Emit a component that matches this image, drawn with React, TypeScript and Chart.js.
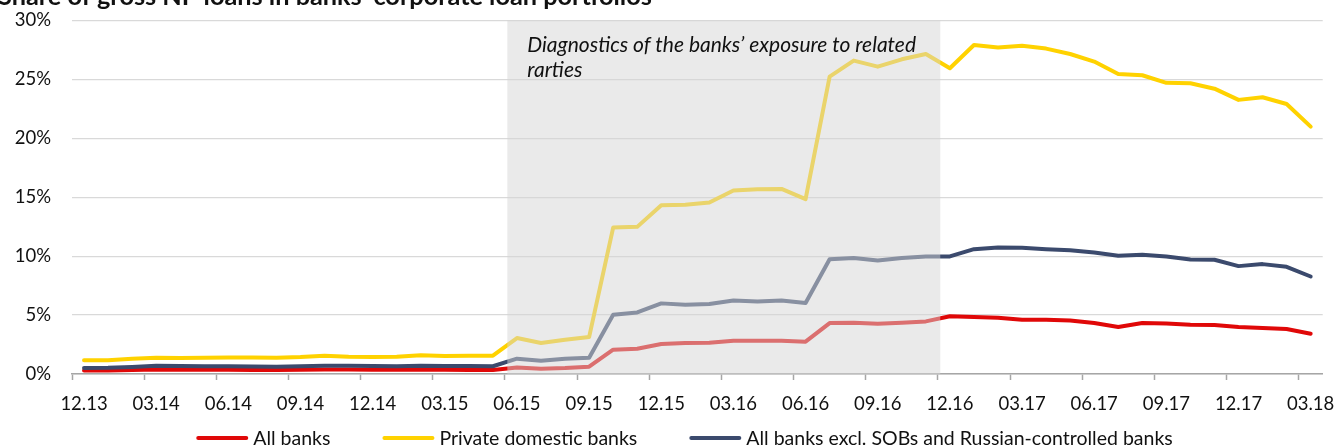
import React, { useEffect, useRef } from 'react';
import { Chart, registerables } from 'chart.js';

Chart.register(...registerables);

const monthLabels = [
  '12.13',
  '01.14', '02.14', '03.14', '04.14', '05.14', '06.14', '07.14', '08.14', '09.14', '10.14', '11.14', '12.14',
  '01.15', '02.15', '03.15', '04.15', '05.15', '06.15', '07.15', '08.15', '09.15', '10.15', '11.15', '12.15',
  '01.16', '02.16', '03.16', '04.16', '05.16', '06.16', '07.16', '08.16', '09.16', '10.16', '11.16', '12.16',
  '01.17', '02.17', '03.17', '04.17', '05.17', '06.17', '07.17', '08.17', '09.17', '10.17', '11.17', '12.17',
  '01.18', '02.18', '03.18',
];

const allBanks = [
  0.30, 0.30, 0.33, 0.38, 0.36, 0.36, 0.36, 0.34, 0.33, 0.36, 0.38, 0.38, 0.36, 0.35, 0.36, 0.35, 0.34, 0.34,
  0.56, 0.45, 0.51, 0.62, 2.06, 2.14, 2.54, 2.63, 2.65, 2.82, 2.82, 2.82, 2.74, 4.32, 4.35, 4.26, 4.35, 4.46,
  4.90, 4.83, 4.77, 4.60, 4.60, 4.54, 4.32, 3.98, 4.32, 4.29, 4.18, 4.15, 3.98, 3.90, 3.81, 3.42,
];

const privateDomestic = [
  1.16, 1.16, 1.30, 1.38, 1.36, 1.38, 1.40, 1.40, 1.38, 1.44, 1.55, 1.46, 1.44, 1.46, 1.60, 1.52, 1.55, 1.55,
  3.05, 2.63, 2.90, 3.13, 12.42, 12.48, 14.32, 14.35, 14.54, 15.56, 15.67, 15.70, 14.83, 25.22, 26.58, 26.07, 26.69, 27.14,
  25.93, 27.90, 27.70, 27.85, 27.60, 27.14, 26.50, 25.45, 25.34, 24.70, 24.66, 24.20, 23.25, 23.47, 22.90, 20.98,
];

const exclSobRussian = [
  0.50, 0.52, 0.60, 0.70, 0.68, 0.66, 0.66, 0.64, 0.62, 0.66, 0.70, 0.70, 0.68, 0.66, 0.70, 0.68, 0.68, 0.66,
  1.30, 1.13, 1.30, 1.38, 5.03, 5.22, 5.99, 5.87, 5.93, 6.24, 6.15, 6.24, 6.02, 9.74, 9.83, 9.63, 9.83, 9.97,
  9.97, 10.59, 10.73, 10.70, 10.59, 10.50, 10.31, 10.03, 10.11, 9.97, 9.71, 9.69, 9.15, 9.32, 9.09, 8.27,
];

const seriesNames = ['All banks', 'Private domestic banks', 'All banks excl. SOBs and Russian-controlled banks'];
const seriesColors = ['#E00808', '#FFD200', '#3B4A6D'];
const yMin = 0;
const yMax = 30;
const yStep = 5;
const titleText = 'Share of gross NP loans in banks’ corporate loan portfolios';
const shadeLines = ['Diagnostics of the banks’ exposure to related', 'rarties'];
const shadeFrom = 17.6;
const shadeTo = 35.6;

const FONT = 'Lato, "Open Sans", sans-serif';

const decorPlugin = {
  id: 'decor',
  afterDatasetsDraw(chart: any) {
    const { ctx, chartArea, scales } = chart;
    const x1 = scales.x.getPixelForValue(shadeFrom);
    const x2 = scales.x.getPixelForValue(shadeTo);
    ctx.save();
    ctx.fillStyle = 'rgba(214,214,214,0.5)';
    ctx.fillRect(x1, chartArea.top, x2 - x1, chartArea.bottom - chartArea.top);
    ctx.fillStyle = '#111';
    ctx.font = `italic 21px ${FONT}`;
    ctx.textBaseline = 'alphabetic';
    ctx.textAlign = 'left';
    ctx.fillText(shadeLines[0], x1 + 20, chartArea.top + 31.5);
    ctx.fillText(shadeLines[1], x1 + 20, chartArea.top + 56.5);
    ctx.restore();
  },
  afterDraw(chart: any) {
    const { ctx } = chart;
    ctx.save();
    // title (partially cut by the top edge, as in the reference)
    ctx.fillStyle = '#111';
    ctx.font = `bold 25.3px ${FONT}`;
    ctx.textBaseline = 'alphabetic';
    ctx.textAlign = 'left';
    ctx.fillText(titleText, -2, 5);

    // legend
    ctx.font = `19.5px ${FONT}`;
    const sample = 52;
    const textGap = 5;
    const itemGap = 52;
    const widths = seriesNames.map((n) => ctx.measureText(n).width);
    const total = widths.reduce((a, w) => a + sample + textGap + w, 0) + itemGap * (seriesNames.length - 1);
    let x = 684.5 - total / 2;
    const yLine = 438;
    const yText = 445;
    seriesNames.forEach((name, i) => {
      ctx.strokeStyle = seriesColors[i];
      ctx.lineWidth = 4;
      ctx.lineCap = 'round';
      ctx.beginPath();
      ctx.moveTo(x + 2, yLine);
      ctx.lineTo(x + sample - 2, yLine);
      ctx.stroke();
      ctx.fillStyle = '#111';
      ctx.fillText(name, x + sample + textGap, yText);
      x += sample + textGap + widths[i] + itemGap;
    });
    ctx.restore();
  },
};

export default function App() {
  const canvasRef = useRef<HTMLCanvasElement | null>(null);

  useEffect(() => {
    document.body.style.margin = '0';
    const canvas = canvasRef.current;
    if (!canvas) return;
    const series = [allBanks, privateDomestic, exclSobRussian];
    const chart = new Chart(canvas, {
      type: 'line',
      data: {
        labels: monthLabels,
        datasets: series.map((d, i) => ({
          label: seriesNames[i],
          data: d,
          borderColor: seriesColors[i],
          backgroundColor: seriesColors[i],
          borderWidth: 4,
          pointRadius: 0,
          pointHoverRadius: 0,
          tension: 0,
          fill: false,
          borderJoinStyle: 'round' as const,
          borderCapStyle: 'round' as const,
          order: 3 - i,
        })),
      },
      options: {
        responsive: false,
        animation: false,
        events: [],
        layout: { padding: { top: 20.3, right: 15.3, bottom: 24, left: 0 } },
        plugins: {
          legend: { display: false },
          tooltip: { enabled: false },
          title: { display: false },
        },
        scales: {
          x: {
            type: 'category',
            offset: true,
            afterFit: (s: any) => {
              s.height = 50;
              s.paddingLeft = 0;
              s.paddingRight = 0;
            },
            grid: {
              display: true,
              drawOnChartArea: false,
              drawTicks: true,
              tickLength: 6,
              offset: true,
              tickColor: (c: any) => (c.index % 3 === 0 ? '#a6a6a6' : 'rgba(0,0,0,0)'),
              tickWidth: 1.5,
            },
            border: { display: true, color: '#a6a6a6', width: 1.5 },
            ticks: {
              autoSkip: false,
              maxRotation: 0,
              minRotation: 0,
              padding: 13,
              color: '#111',
              font: { family: FONT, size: 18.5 },
              callback: (_v: any, idx: number) => (idx % 3 === 0 ? monthLabels[idx] : ''),
            },
          },
          y: {
            min: yMin,
            max: yMax,
            afterFit: (s: any) => {
              s.width = 72;
              s.paddingTop = 0;
              s.paddingBottom = 0;
            },
            grid: { color: '#d9d9d9', lineWidth: 1.2, drawTicks: false },
            border: { display: false },
            ticks: {
              stepSize: yStep,
              padding: 21,
              color: '#111',
              font: { family: FONT, size: 18.5 },
              callback: (v: any) => `${v}%`,
            },
          },
        },
      },
      plugins: [decorPlugin],
    });
    return () => chart.destroy();
  }, []);

  return (
    <div style={{ width: 1338, height: 448, position: 'relative', background: '#fff' }}>
      <canvas ref={canvasRef} width={1338} height={448} />
    </div>
  );
}
